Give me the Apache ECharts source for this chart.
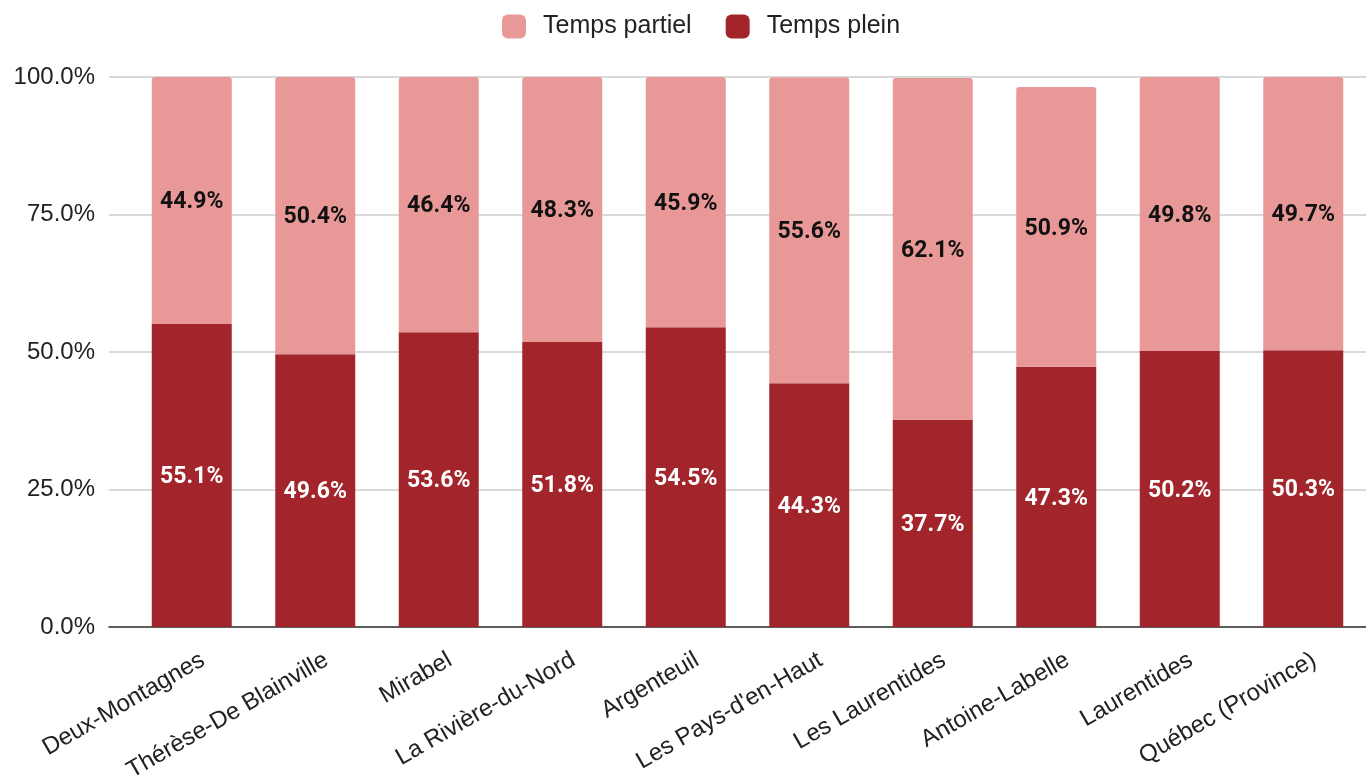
<!DOCTYPE html>
<html><head><meta charset="utf-8">
<script src="https://cdn.jsdelivr.net/npm/echarts@6/dist/echarts.min.js"></script>
<style>html,body{margin:0;padding:0;background:#fff}#c{width:1366px;height:777px}</style>
</head><body><div id="c"></div>
<script>
const categories = ["Deux-Montagnes","Thérèse-De Blainville","Mirabel","La Rivière-du-Nord","Argenteuil","Les Pays-d'en-Haut","Les Laurentides","Antoine-Labelle","Laurentides","Québec (Province)"];
const tempsPlein = [55.1,49.6,53.6,51.8,54.5,44.3,37.7,47.3,50.2,50.3];
const tempsPartiel = [44.9,50.4,46.4,48.3,45.9,55.6,62.1,50.9,49.8,49.7];
const yTicks = [0,25,50,75,100];

const chart = echarts.init(document.getElementById('c'));
const gTop = 77, gBottom = 150;
chart.setOption({
  animation:false,
  legend:{
    top:9, left:497,
    itemWidth:24, itemHeight:24, itemGap:34,
    icon:'roundRect',
    textStyle:{fontFamily:'Liberation Sans, Arial', fontSize:25, color:'#222', padding:[0,0,0,12]},
    data:['Temps partiel','Temps plein']
  },
  grid:[
    {left:109, right:0, top:gTop, bottom:gBottom, outerBoundsMode:'none', containLabel:false},
    {left:130, right:1, top:gTop, bottom:gBottom, outerBoundsMode:'none', containLabel:false}
  ],
  xAxis:[
    {gridIndex:0, type:'value', min:0, max:1, axisLine:{show:true, lineStyle:{color:'#333', width:1.5}},
     axisTick:{show:false}, axisLabel:{show:false}, splitLine:{show:false}},
    {gridIndex:1, type:'category', data:categories,
     axisLine:{show:false}, axisTick:{show:false},
     axisLabel:{interval:0, rotate:30, margin:24, verticalAlign:'top', padding:[0,-6,0,0], fontFamily:'Liberation Sans, Arial', fontSize:24, color:'#222'}}
  ],
  yAxis:[
    {gridIndex:0, type:'value', min:0, max:100, interval:25,
     axisLine:{show:false}, axisTick:{show:false},
     axisLabel:{formatter:v=>v.toFixed(1)+'%', fontFamily:'Liberation Sans, Arial', fontSize:24, color:'#222', margin:14},
     splitLine:{lineStyle:{color:'#cccccc', width:1.5}}},
    {gridIndex:1, type:'value', min:0, max:100, interval:25, show:false, splitLine:{show:false}}
  ],
  series:[
    {name:'Temps plein', type:'bar', stack:'s', xAxisIndex:1, yAxisIndex:1, barWidth:80,
     data:tempsPlein, itemStyle:{color:'#a2252b'},
     label:{show:true, position:'inside', offset:[0,2], formatter:p=>p.value.toFixed(1)+'%', color:'#fff', fontFamily:'Roboto', fontWeight:'bold', fontSize:23}},
    {name:'Temps partiel', type:'bar', stack:'s', xAxisIndex:1, yAxisIndex:1, barWidth:80,
     data:tempsPartiel, itemStyle:{color:'#e99898', borderRadius:[3,3,0,0]},
     label:{show:true, position:'inside', offset:[0,2], formatter:p=>p.value.toFixed(1)+'%', color:'#111', fontFamily:'Roboto', fontWeight:'bold', fontSize:23}}
  ]
});
</script></body></html>
